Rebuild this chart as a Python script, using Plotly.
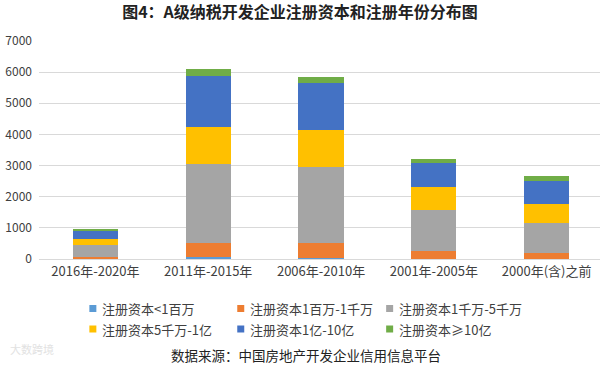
import plotly.graph_objects as go

categories = ["2016年-2020年", "2011年-2015年", "2006年-2010年", "2001年-2005年", "2000年(含)之前"]
series_names = ["注册资本<1百万", "注册资本1百万-1千万", "注册资本1千万-5千万",
                "注册资本5千万-1亿", "注册资本1亿-10亿", "注册资本≥10亿"]
v_lt1m = [10, 60, 30, 5, 5]
v_1m_10m = [50, 450, 490, 260, 200]
v_10m_50m = [400, 2550, 2420, 1310, 965]
v_50m_100m = [180, 1180, 1200, 750, 610]
v_100m_1b = [260, 1630, 1510, 770, 720]
v_ge1b = [55, 235, 195, 130, 160]
y_ticks = [0, 1000, 2000, 3000, 4000, 5000, 6000, 7000]

colors = ["#5B9BD5", "#ED7D31", "#A5A5A5", "#FFC000", "#4472C4", "#70AD47"]
values = [v_lt1m, v_1m_10m, v_10m_50m, v_50m_100m, v_100m_1b, v_ge1b]

W, H = 600, 380
L, R, T, B = 38.6, 0, 41, 121
PW, PH = W - L - R, H - T - B
SLOT = 112.9  # pixels per category


def px(xp):
    return (xp - L) / PW


def py(yp):
    return (H - B - yp) / PH


font = "Noto Sans CJK SC, Liberation Sans, sans-serif"
fig = go.Figure()
for name, vals, c in zip(series_names, values, colors):
    fig.add_trace(go.Bar(x=categories, y=vals, name=name, marker=dict(color=c, line=dict(width=0)),
                         showlegend=False))

fig.update_layout(
    width=W, height=H,
    barmode="stack", bargap=0.6,
    margin=dict(l=L, r=R, t=T, b=B, autoexpand=False),
    paper_bgcolor="white", plot_bgcolor="white",
    font=dict(family=font, size=12, color="#404040"),
    title=dict(text="<b>图4：A级纳税开发企业注册资本和注册年份分布图</b>", x=(300) / W, xanchor="center",
               y=1 - 12 / H, yanchor="middle", font=dict(size=16, color="#222222")),
    xaxis=dict(showgrid=False, showline=True, linecolor="#D9D9D9", ticks="",
               range=[-0.5, -0.5 + PW / SLOT],
               tickfont=dict(size=13, color="#404040")),
    yaxis=dict(range=[0, 7000], tickvals=y_ticks, showgrid=True, gridcolor="#D9D9D9", gridwidth=1,
               zeroline=False, ticks="", ticklabelstandoff=6,
               tickfont=dict(size=12, color="#404040")),
    showlegend=False,
)

# legend (3 per row) built from series names and colours
leg_x = [89, 237, 386]
leg_y = [308.5, 329]
for i, (name, c) in enumerate(zip(series_names, colors)):
    cx = leg_x[i % 3]
    cy = leg_y[i // 3]
    fig.add_shape(type="rect", xref="paper", yref="paper",
                  x0=px(cx), x1=px(cx + 7), y0=py(cy + 3.5), y1=py(cy - 3.5),
                  fillcolor=c, line=dict(width=0))
    fig.add_annotation(text=name, xref="paper", yref="paper", x=px(cx + 11), y=py(cy),
                       xanchor="left", yanchor="middle", showarrow=False,
                       font=dict(size=13, color="#404040"))

fig.add_annotation(text="数据来源：中国房地产开发企业信用信息平台", xref="paper", yref="paper",
                   x=px(306), y=py(355), xanchor="center", yanchor="middle",
                   showarrow=False, font=dict(size=13.5, color="#222222"))
fig.add_annotation(text="大数跨境", xref="paper", yref="paper",
                   x=px(8), y=py(349), xanchor="left", yanchor="middle",
                   showarrow=False, font=dict(size=11, color="#E2E2E2"))
fig.write_html("out.html", config={"displayModeBar": False},
               post_script="document.body.style.margin='0';")
